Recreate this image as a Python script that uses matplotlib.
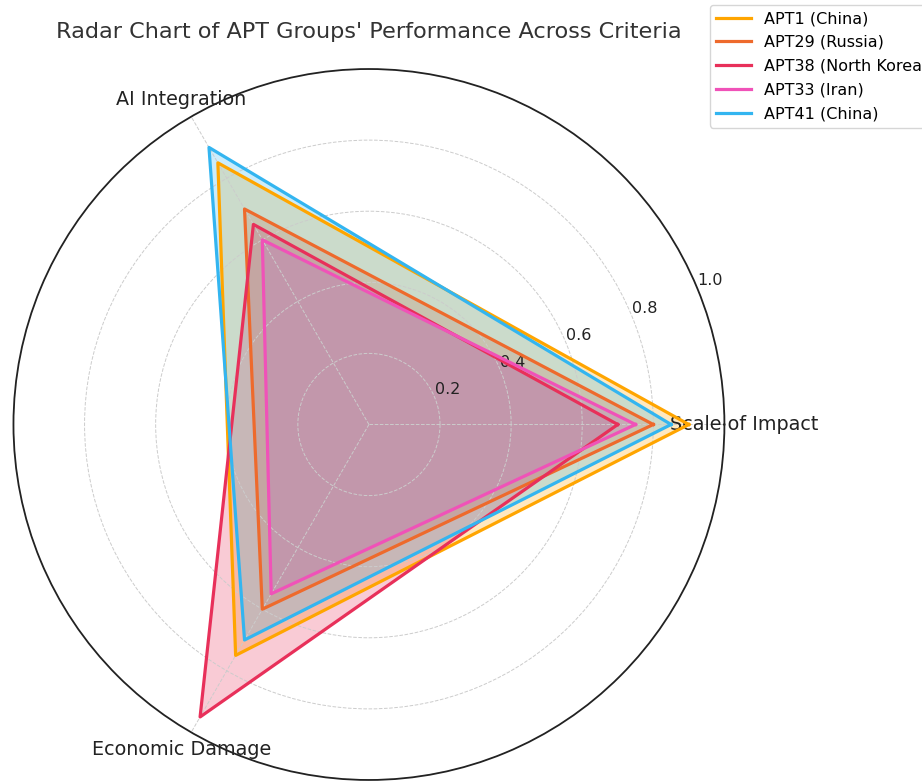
import numpy as np
import matplotlib
matplotlib.use("Agg")
import matplotlib.pyplot as plt

categories = ["Scale of Impact", "AI Integration", "Economic Damage"]
groups = ["APT1 (China)", "APT29 (Russia)", "APT38 (North Korea)", "APT33 (Iran)", "APT41 (China)"]
apt1 = [0.90, 0.85, 0.75]
apt29 = [0.80, 0.70, 0.60]
apt38 = [0.70, 0.65, 0.95]
apt33 = [0.75, 0.60, 0.55]
apt41 = [0.85, 0.90, 0.70]
colors = ["#FFA500", "#EE6A2C", "#E8305A", "#F052B8", "#33B5F0"]

series = [apt1, apt29, apt38, apt33, apt41]
angles = np.linspace(0, 2 * np.pi, len(categories), endpoint=False).tolist()
angles_closed = angles + angles[:1]

fig = plt.figure(figsize=(9.22, 7.84), dpi=100)
ax = fig.add_axes([0.0146, 0.0051, 0.7711, 0.9069], polar=True)

for name, vals, color in zip(groups, series, colors):
    v = vals + vals[:1]
    ax.fill(angles_closed, v, color=color, alpha=0.25)
    ax.plot(angles_closed, v, color=color, linewidth=2.3, label=name)

ax.set_ylim(0, 1)
ax.set_yticks([0.2, 0.4, 0.6, 0.8, 1.0])
ax.set_yticklabels(["0.2", "0.4", "0.6", "0.8", "1.0"], fontsize=11.5, color="#222222")
ax.set_xticks(angles)
ax.set_xticklabels(categories, fontsize=13.8, color="#222222")
ax.grid(color="#cccccc", linestyle="--", linewidth=0.7)
ax.spines["polar"].set_color("#222222")
ax.spines["polar"].set_linewidth(1.3)

ax.set_title("Radar Chart of APT Groups' Performance Across Criteria",
             fontsize=16.1, color="#333333", pad=22)

fig.legend(loc="upper left", bbox_to_anchor=(0.770, 0.994), fontsize=11.5,
           handlelength=2.2, borderaxespad=0.0, labelspacing=0.55)

fig.savefig("out.png", dpi=100)
